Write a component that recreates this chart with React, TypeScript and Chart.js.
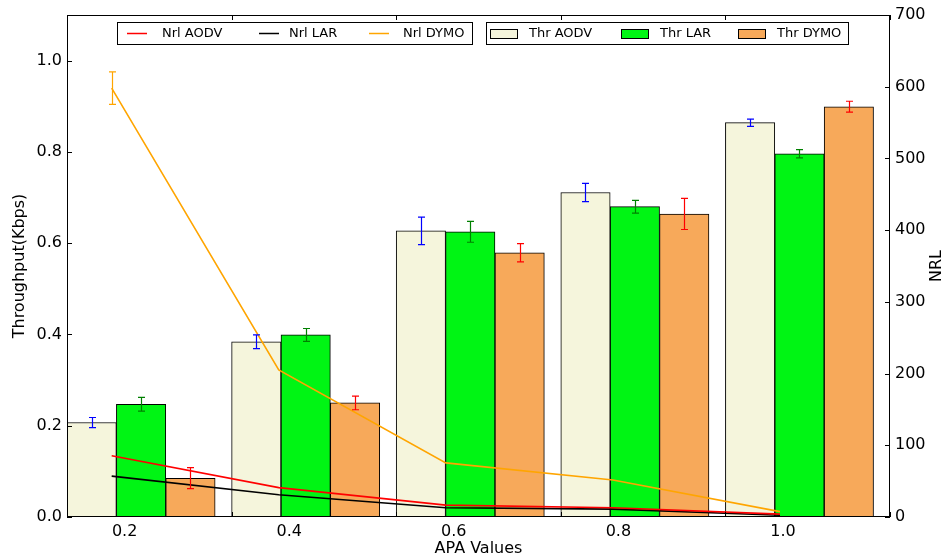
import { useEffect, useRef } from 'react';
import { Chart, registerables } from 'chart.js';

Chart.register(...registerables);

const apaLabels = ['0.2', '0.4', '0.6', '0.8', '1.0'];
const apaValues = [0.2, 0.4, 0.6, 0.8, 1.0];

const thrAODV = [0.207, 0.384, 0.627, 0.711, 0.864];
const thrAODVErr = [0.011, 0.015, 0.03, 0.02, 0.008];
const thrLAR = [0.247, 0.399, 0.625, 0.68, 0.796];
const thrLARErr = [0.015, 0.014, 0.023, 0.014, 0.009];
const thrDYMO = [0.085, 0.25, 0.579, 0.664, 0.899];
const thrDYMOErr = [0.023, 0.015, 0.02, 0.034, 0.012];

const nrlAODV = [85.5, 41, 16.5, 13, 4];
const nrlLAR = [57, 31, 13, 11, 2.5];
const nrlDYMO = [598, 205, 75.5, 51.5, 7.5];
const nrlDYMOErr = [22.6, 0, 0, 0, 0];

const thrTicks = [0, 0.2, 0.4, 0.6, 0.8, 1.0];
const nrlTicks = [0, 100, 200, 300, 400, 500, 600, 700];

const FONT = '"DejaVu Sans", sans-serif';
const BAR_W = 0.3;

const barSeries = [
  { label: 'Thr AODV', values: thrAODV, err: thrAODVErr, fill: '#F5F5DC', errColor: '#0000FF' },
  { label: 'Thr LAR', values: thrLAR, err: thrLARErr, fill: '#00F514', errColor: '#008000' },
  { label: 'Thr DYMO', values: thrDYMO, err: thrDYMOErr, fill: '#F7A95A', errColor: '#FF0000' },
];
const lineSeries = [
  { label: 'Nrl AODV', values: nrlAODV, err: null as number[] | null, color: '#FF0000' },
  { label: 'Nrl LAR', values: nrlLAR, err: null as number[] | null, color: '#000000' },
  { label: 'Nrl DYMO', values: nrlDYMO, err: nrlDYMOErr, color: '#FFA500' },
];

const errorBarPlugin = {
  id: 'errorBars',
  afterDatasetsDraw(chart: any) {
    const ctx = chart.ctx;
    ctx.save();
    chart.data.datasets.forEach((ds: any, di: number) => {
      if (!ds.errs) return;
      const meta = chart.getDatasetMeta(di);
      const ys = chart.scales[meta.yAxisID];
      meta.data.forEach((el: any, i: number) => {
        const e = ds.errs[i];
        if (!e) return;
        const v = ds.data[i].y;
        const y1 = ys.getPixelForValue(v + e);
        const y2 = ys.getPixelForValue(v - e);
        const x = Math.round(el.x) + 0.5;
        ctx.strokeStyle = ds.errColor;
        ctx.lineWidth = 1.2;
        ctx.beginPath();
        ctx.moveTo(x, y1);
        ctx.lineTo(x, y2);
        ctx.moveTo(x - 3.5, y1);
        ctx.lineTo(x + 3.5, y1);
        ctx.moveTo(x - 3.5, y2);
        ctx.lineTo(x + 3.5, y2);
        ctx.stroke();
      });
    });
    ctx.restore();
  },
};

const decorPlugin = {
  id: 'decor',
  afterDraw(chart: any) {
    const ctx = chart.ctx;
    const a = chart.chartArea;
    const sx = chart.scales.x;
    const sy = chart.scales.y;
    const sy1 = chart.scales.y1;
    ctx.save();
    ctx.strokeStyle = '#000';
    ctx.lineWidth = 1;
    ctx.strokeRect(a.left + 0.5, a.top + 0.5, a.right - a.left - 1, a.bottom - a.top - 1);
    ctx.beginPath();
    thrTicks.forEach((v) => {
      const y = Math.round(sy.getPixelForValue(v)) + 0.5;
      ctx.moveTo(a.left, y);
      ctx.lineTo(a.left + 5, y);
    });
    nrlTicks.forEach((v) => {
      const y = Math.round(sy1.getPixelForValue(v)) + 0.5;
      ctx.moveTo(a.right, y);
      ctx.lineTo(a.right - 5, y);
    });
    for (let i = 0; i <= apaValues.length; i++) {
      const x = Math.round(sx.getPixelForValue(i)) + 0.5;
      ctx.moveTo(x, a.top);
      ctx.lineTo(x, a.top + 5);
      ctx.moveTo(x, a.bottom);
      ctx.lineTo(x, a.bottom - 5);
    }
    ctx.stroke();

    ctx.fillStyle = '#000';
    ctx.font = `16px ${FONT}`;
    ctx.textAlign = 'center';
    ctx.textBaseline = 'middle';
    ctx.fillText('APA Values', (a.left + a.right) / 2, 549);
    const midY = (a.top + a.bottom) / 2;
    ctx.save();
    ctx.translate(20, midY);
    ctx.rotate(-Math.PI / 2);
    ctx.fillText('Throughput(Kbps)', 0, 0);
    ctx.restore();
    ctx.save();
    ctx.translate(937, midY);
    ctx.rotate(-Math.PI / 2);
    ctx.fillText('NRL', 0, 0);
    ctx.restore();

    ctx.font = `13px ${FONT}`;
    ctx.textAlign = 'left';
    ctx.textBaseline = 'middle';
    ctx.fillStyle = '#fff';
    ctx.fillRect(117.5, 22.5, 355, 22);
    ctx.strokeStyle = '#000';
    ctx.lineWidth = 1;
    ctx.strokeRect(117.5, 22.5, 355, 22);
    const lineHandleX = [127, 259, 369];
    const lineTextX = [162, 289, 403];
    lineSeries.forEach((s, i) => {
      ctx.strokeStyle = s.color;
      ctx.lineWidth = 1.5;
      ctx.beginPath();
      ctx.moveTo(lineHandleX[i], 33.5);
      ctx.lineTo(lineHandleX[i] + 20, 33.5);
      ctx.stroke();
      ctx.fillStyle = '#000';
      ctx.fillText(s.label, lineTextX[i], 34);
    });
    ctx.fillStyle = '#fff';
    ctx.fillRect(486.5, 22.5, 362, 22);
    ctx.strokeStyle = '#000';
    ctx.lineWidth = 1;
    ctx.strokeRect(486.5, 22.5, 362, 22);
    const patchX = [490.5, 621.5, 738.5];
    const barTextX = [529, 660, 777];
    barSeries.forEach((s, i) => {
      ctx.fillStyle = s.fill;
      ctx.fillRect(patchX[i], 29.5, 27, 9);
      ctx.strokeStyle = '#000';
      ctx.strokeRect(patchX[i], 29.5, 27, 9);
      ctx.fillStyle = '#000';
      ctx.fillText(s.label, barTextX[i], 34);
    });
    ctx.restore();
  },
};

export default function App() {
  const ref = useRef<HTMLCanvasElement | null>(null);

  useEffect(() => {
    if (!ref.current) return;
    Chart.defaults.font.family = FONT;
    Chart.defaults.color = '#000';

    const datasets: any[] = [];
    lineSeries.forEach((s) => {
      datasets.push({
        type: 'line',
        label: s.label,
        data: s.values.map((v, i) => ({ x: apaValues[i], y: v })),
        xAxisID: 'xl',
        yAxisID: 'y1',
        borderColor: s.color,
        borderWidth: 1.6,
        pointRadius: 0,
        fill: false,
        tension: 0,
        order: 0,
        errs: s.err,
        errColor: s.color,
      });
    });
    barSeries.forEach((s, si) => {
      datasets.push({
        type: 'bar',
        label: s.label,
        data: s.values.map((v, i) => ({ x: i + BAR_W * si + BAR_W / 2, y: v })),
        xAxisID: 'x',
        yAxisID: 'y',
        backgroundColor: s.fill,
        borderColor: '#000',
        borderWidth: 1,
        borderSkipped: false,
        grouped: false,
        barPercentage: 1,
        categoryPercentage: 1,
        order: 1,
        errs: s.err,
        errColor: s.errColor,
      });
    });

    const chart = new Chart(ref.current, {
      type: 'bar',
      data: { datasets },
      options: {
        animation: false,
        responsive: false,
        layout: { padding: { top: 15, left: 0, right: 0, bottom: 0 } },
        plugins: { legend: { display: false }, tooltip: { enabled: false } },
        scales: {
          x: {
            type: 'linear',
            position: 'bottom',
            min: 0,
            max: 5,
            offset: false,
            grid: { display: false, drawTicks: false, offset: false },
            border: { display: false },
            afterBuildTicks: (scale: any) => {
              scale.ticks = apaValues.map((_, i) => ({ value: i + 0.35 }));
            },
            afterFit: (scale: any) => {
              scale.height = 42;
            },
            ticks: {
              autoSkip: false,
              maxRotation: 0,
              padding: 5,
              font: { size: 16 },
              callback: (_v: any, i: number) => apaLabels[i],
            },
          },
          xl: {
            type: 'linear',
            axis: 'x',
            position: 'bottom',
            display: false,
            offset: false,
            grid: { offset: false },
            bounds: 'data',
            min: 0.1465,
            max: 1.1317,
          },
          y: {
            type: 'linear',
            position: 'left',
            min: 0,
            max: 1.1,
            grid: { display: false, drawTicks: false },
            border: { display: false },
            afterBuildTicks: (scale: any) => {
              scale.ticks = thrTicks.map((v) => ({ value: v }));
            },
            afterFit: (scale: any) => {
              scale.width = 67;
            },
            ticks: {
              padding: 5,
              font: { size: 16 },
              callback: (v: any) => Number(v).toFixed(1),
            },
          },
          y1: {
            type: 'linear',
            position: 'right',
            min: 0,
            max: 700,
            grid: { display: false, drawTicks: false },
            border: { display: false },
            afterBuildTicks: (scale: any) => {
              scale.ticks = nrlTicks.map((v) => ({ value: v }));
            },
            afterFit: (scale: any) => {
              scale.width = 58;
            },
            ticks: {
              padding: 5,
              font: { size: 16 },
              callback: (v: any) => String(v),
            },
          },
        },
      } as any,
      plugins: [errorBarPlugin, decorPlugin],
    });
    return () => chart.destroy();
  }, []);

  return (
    <div style={{ position: 'fixed', left: 0, top: 0, width: 948, height: 559, background: '#fff' }}>
      <canvas ref={ref} width={948} height={559} style={{ display: 'block' }} />
    </div>
  );
}
